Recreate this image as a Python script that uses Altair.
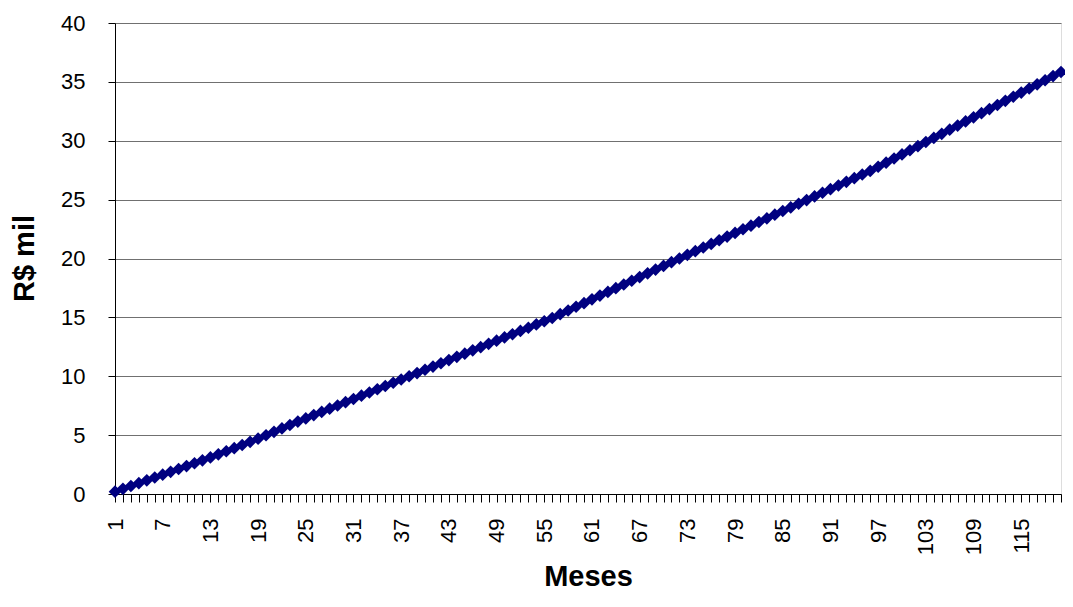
import altair as alt
import pandas as pd

meses = list(range(1, 121))
valores = [
    0.20, 0.44, 0.68, 0.92, 1.16, 1.40, 1.64, 1.88, 2.12, 2.37,
    2.61, 2.86, 3.11, 3.37, 3.63, 3.89, 4.16, 4.43, 4.70, 4.99,
    5.28, 5.57, 5.86, 6.15, 6.42, 6.70, 6.97, 7.25, 7.52, 7.80,
    8.07, 8.35, 8.62, 8.90, 9.17, 9.45, 9.72, 10.00, 10.27, 10.55,
    10.82, 11.10, 11.37, 11.65, 11.92, 12.20, 12.47, 12.75, 13.02, 13.30,
    13.57, 13.85, 14.12, 14.40, 14.67, 14.95, 15.27, 15.58, 15.90, 16.21,
    16.53, 16.85, 17.16, 17.48, 17.79, 18.11, 18.42, 18.74, 19.06, 19.37,
    19.69, 20.00, 20.31, 20.62, 20.93, 21.24, 21.55, 21.86, 22.17, 22.48,
    22.79, 23.10, 23.41, 23.72, 24.03, 24.34, 24.65, 24.96, 25.27, 25.58,
    25.89, 26.20, 26.51, 26.82, 27.13, 27.44, 27.79, 28.14, 28.49, 28.84,
    29.19, 29.54, 29.89, 30.24, 30.59, 30.94, 31.29, 31.64, 31.99, 32.34,
    32.69, 33.04, 33.39, 33.74, 34.09, 34.44, 34.79, 35.14, 35.49, 35.84,
]
y_ticks = [0, 5, 10, 15, 20, 25, 30, 35, 40]

df = pd.DataFrame({"Meses": meses, "Valor": valores})

FONT = "Liberation Sans"
NAVY = "#000080"

x_enc = alt.X(
    "Meses:Q",
    scale=alt.Scale(domain=[1, 120], nice=False, zero=False),
    axis=alt.Axis(
        title="Meses",
        values=meses,
        tickCount=200,
        labelExpr="(datum.value - 1) % 6 == 0 ? datum.value : ''",
        labelAngle=-90,
        labelFontSize=22,
        labelFont=FONT,
        labelColor="black",
        labelPadding=16,
        labelOverlap=False,
        labelFlush=False,
        tickSize=8,
        tickColor="black",
        domainColor="black",
        grid=False,
        titleFont=FONT,
        titleFontSize=29,
        titleFontWeight="bold",
        titleColor="black",
        titleX=473,
        titleY=82,
        titleBaseline="middle",
        titleAlign="center",
    ),
)
y_enc = alt.Y(
    "Valor:Q",
    scale=alt.Scale(domain=[0, 40], nice=False),
    axis=alt.Axis(
        title="R$ mil",
        values=y_ticks,
        tickCount=20,
        labelFontSize=22,
        labelFont=FONT,
        labelColor="black",
        labelPadding=23,
        tickSize=7,
        tickColor="black",
        domainColor="black",
        grid=True,
        gridColor="#707070",
        gridWidth=1,
        titleFont=FONT,
        titleFontSize=29,
        titleFontWeight="bold",
        titleColor="black",
        titleX=-91,
        titleY=235,
        titleBaseline="middle",
        titleAlign="center",
        titleAngle=-90,
    ),
)

line = alt.Chart(df).mark_line(color=NAVY, strokeWidth=3).encode(x=x_enc, y=y_enc)
pts = alt.Chart(df).mark_point(
    shape="diamond", filled=True, size=160, color=NAVY, opacity=1
).encode(x="Meses:Q", y="Valor:Q")

chart = (
    (line + pts)
    .properties(
        width=946,
        height=471,
        autosize=alt.AutoSizeParams(type="none"),
        padding={"left": 107, "top": 15, "right": 4, "bottom": 99},
    )
    .configure_view(stroke=None)
    .configure(background="white")
)

chart.save("out.html", embed_options={"renderer": "svg", "actions": False})
